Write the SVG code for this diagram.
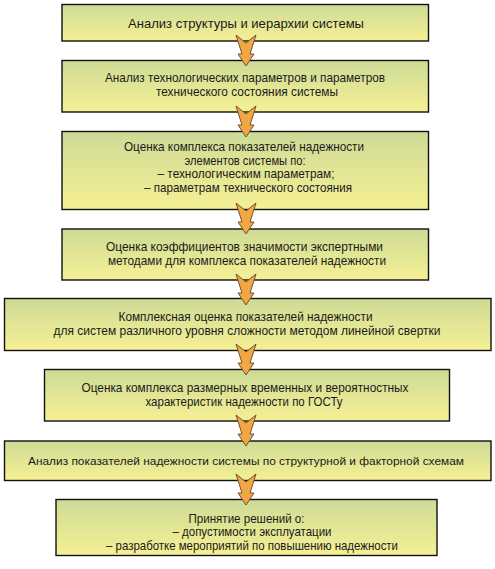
<svg xmlns="http://www.w3.org/2000/svg" xmlns:xlink="http://www.w3.org/1999/xlink" width="495" height="569" viewBox="0 0 495 569">
<defs>
<linearGradient id="g" x1="0" y1="0" x2="0" y2="1">
<stop offset="0" stop-color="#cddb96"/>
<stop offset="1" stop-color="#f6f094"/>
</linearGradient>
<path id="arr" d="M-10,0 L0,8 L10,0 L4,19 L8,19 L0,31 L-8,19 L-4,19 Z"/>
</defs>
<style>
rect.box{fill:url(#g);stroke:#111;stroke-width:1.4}
text{font-family:"Liberation Sans",Arial,sans-serif;font-size:13px;fill:#1a1a1a;text-anchor:middle}
.s{font-size:11.5px}
.a{fill:#f3a744;stroke:#6e5430;stroke-width:1;stroke-linejoin:miter}
</style>
<rect width="495" height="569" fill="#fff"/>
<g id="n1"><rect class="box" x="62" y="4.5" width="366.5" height="36.5"/>
<text x="246" y="27.5" textLength="236" lengthAdjust="spacingAndGlyphs">Анализ структуры и иерархии системы</text></g>
<g id="n2"><rect class="box" x="62" y="60.5" width="366.5" height="51.5"/>
<text x="245" y="82" textLength="280" lengthAdjust="spacingAndGlyphs">Анализ технологических параметров и параметров</text>
<text x="247" y="95.5" textLength="182" lengthAdjust="spacingAndGlyphs">технического состояния системы</text></g>
<g id="n3"><rect class="box" x="62" y="131.5" width="366.5" height="78"/>
<text x="244" y="151" textLength="240" lengthAdjust="spacingAndGlyphs">Оценка комплекса показателей надежности</text>
<text x="245" y="164.5" textLength="121" lengthAdjust="spacingAndGlyphs">элементов системы по:</text>
<text x="246" y="178" textLength="177" lengthAdjust="spacingAndGlyphs">– технологическим параметрам;</text>
<text x="248" y="191.5" textLength="208" lengthAdjust="spacingAndGlyphs">– параметрам технического состояния</text></g>
<g id="n4"><rect class="box" x="62" y="229" width="366.5" height="51"/>
<text x="244.5" y="251" textLength="277" lengthAdjust="spacingAndGlyphs">Оценка коэффициентов значимости экспертными</text>
<text x="247" y="264.5" textLength="278" lengthAdjust="spacingAndGlyphs">методами для комплекса показателей надежности</text></g>
<g id="n5"><rect class="box" x="4.5" y="298.5" width="486.5" height="52"/>
<text x="245.5" y="321" textLength="254" lengthAdjust="spacingAndGlyphs">Комплексная оценка показателей надежности</text>
<text x="247" y="334.5" textLength="387" lengthAdjust="spacingAndGlyphs">для систем различного уровня сложности методом линейной свертки</text></g>
<g id="n6"><rect class="box" x="44.5" y="369.5" width="405" height="51.5"/>
<text x="245" y="392" textLength="327" lengthAdjust="spacingAndGlyphs">Оценка комплекса размерных временных и вероятностных</text>
<text x="244" y="405.5" textLength="197" lengthAdjust="spacingAndGlyphs">характеристик надежности по ГОСТу</text></g>
<g id="n7"><rect class="box" x="4.5" y="441" width="486.5" height="39.5"/>
<text class="s" x="246" y="464.5" textLength="436" lengthAdjust="spacingAndGlyphs">Анализ показателей надежности системы по структурной и факторной схемам</text></g>
<g id="n8"><rect class="box" x="56" y="499.5" width="381" height="56"/>
<text x="246.5" y="522.5" textLength="116" lengthAdjust="spacingAndGlyphs">Принятие решений о:</text>
<text x="252" y="536" textLength="159" lengthAdjust="spacingAndGlyphs">– допустимости эксплуатации</text>
<text x="252" y="549.5" textLength="292" lengthAdjust="spacingAndGlyphs">– разработке мероприятий по повышению надежности</text></g>
<g id="connectors">
<use xlink:href="#arr" class="a" x="246" y="35"/>
<use xlink:href="#arr" class="a" x="246" y="106"/>
<use xlink:href="#arr" class="a" x="246" y="203"/>
<use xlink:href="#arr" class="a" x="246" y="274"/>
<use xlink:href="#arr" class="a" x="246" y="344"/>
<use xlink:href="#arr" class="a" x="246" y="415"/>
<use xlink:href="#arr" class="a" x="246" y="474"/>
</g>
</svg>
